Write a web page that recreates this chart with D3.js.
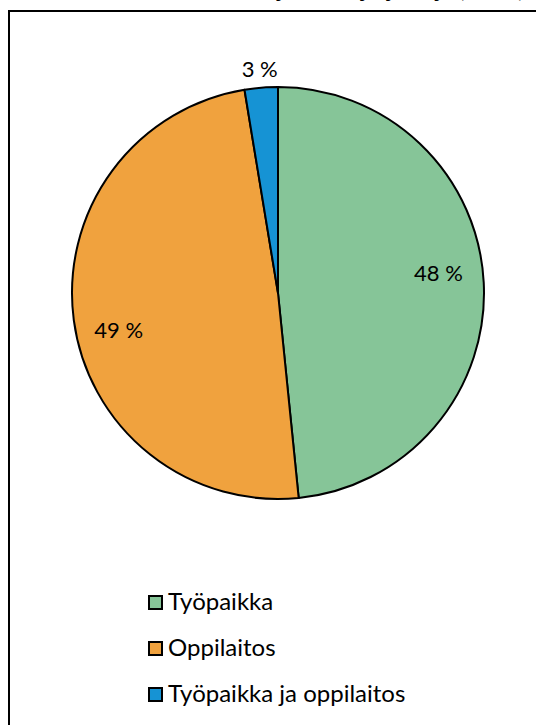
<!DOCTYPE html>
<html>
<head>
<meta charset="utf-8">
<script src="https://cdn.jsdelivr.net/npm/d3@7"></script>
<style>
  body { margin: 0; background: #fff; }
  svg { display: block; font-family: Lato, "Open Sans", sans-serif; }
</style>
</head>
<body>
<div id="vis"></div>
<script>
const FRAME_WIDTH = 536;
const FRAME_HEIGHT = 725;

// data
const CATEGORIES = ["Työpaikka", "Oppilaitos", "Työpaikka ja oppilaitos"];
const VALUES = [48.4, 49.0, 2.6];
const LABELS = ["48 %", "49 %", "3 %"];
const COLORS = ["#86c598", "#f0a23e", "#1693d4"];
const TITLE = "Ohjauksen järjestäjä (n=71)";

const CENTER = {x: 278, y: 293};
const RADIUS = 206;
// small label shifts, like the spreadsheet's own placement
const LABEL_SHIFT = [[0, -12], [0, 16], [0, 0]];

const FRAME = d3.select("#vis")
                .append("svg")
                  .attr("width", FRAME_WIDTH)
                  .attr("height", FRAME_HEIGHT);

// chart border, cut off at the right and bottom
FRAME.append("rect")
     .attr("x", 9).attr("y", 11)
     .attr("width", 600).attr("height", 800)
     .attr("fill", "none")
     .attr("stroke", "#000")
     .attr("stroke-width", 2);

// title, mostly above the visible area as in the reference
FRAME.append("text")
     .attr("x", 385).attr("y", -3)
     .attr("text-anchor", "middle")
     .attr("font-weight", "bold")
     .attr("font-size", "23px")
     .text(TITLE);

const COLOR = d3.scaleOrdinal().domain(CATEGORIES).range(COLORS);

const pie = d3.pie().sort(null).value((d, i) => VALUES[i]);
const arcs = pie(CATEGORIES);
const arc = d3.arc().innerRadius(0).outerRadius(RADIUS);

const g = FRAME.append("g")
               .attr("transform", "translate(" + CENTER.x + "," + CENTER.y + ")");

g.selectAll(".slice")
 .data(arcs)
 .enter()
 .append("path")
   .attr("class", "slice")
   .attr("d", arc)
   .attr("fill", (d) => COLOR(d.data))
   .attr("stroke", "#000")
   .attr("stroke-width", 2)
   .attr("stroke-linejoin", "round");

// data labels: two inside, the small one outside
const inner = d3.arc().innerRadius(RADIUS * 0.78).outerRadius(RADIUS * 0.78);
const outer = d3.arc().innerRadius(RADIUS * 1.09).outerRadius(RADIUS * 1.09);

g.selectAll(".lbl")
 .data(arcs)
 .enter()
 .append("text")
   .attr("class", "lbl")
   .attr("transform", (d, i) => {
     const c = (i === 2 ? outer : inner).centroid(d);
     return "translate(" + (c[0] + LABEL_SHIFT[i][0]) + "," + (c[1] + LABEL_SHIFT[i][1]) + ")";
   })
   .attr("text-anchor", "middle")
   .attr("dy", "0.35em")
   .attr("font-size", "22px")
   .attr("fill", "#000")
   .text((d, i) => LABELS[i]);

// legend
const LEGEND_Y = d3.scalePoint().domain(CATEGORIES).range([602, 694]);

const legend = FRAME.selectAll(".legend")
                    .data(CATEGORIES)
                    .enter()
                    .append("g")
                      .attr("class", "legend")
                      .attr("transform", (d) => "translate(149," + LEGEND_Y(d) + ")");

legend.append("rect")
      .attr("x", 0).attr("y", -6)
      .attr("width", 13).attr("height", 13)
      .attr("fill", (d) => COLOR(d))
      .attr("stroke", "#000")
      .attr("stroke-width", 2);

legend.append("text")
      .attr("x", 19)
      .attr("dy", "0.35em")
      .attr("font-size", "24px")
      .attr("fill", "#000")
      .text((d) => d);
</script>
</body>
</html>
